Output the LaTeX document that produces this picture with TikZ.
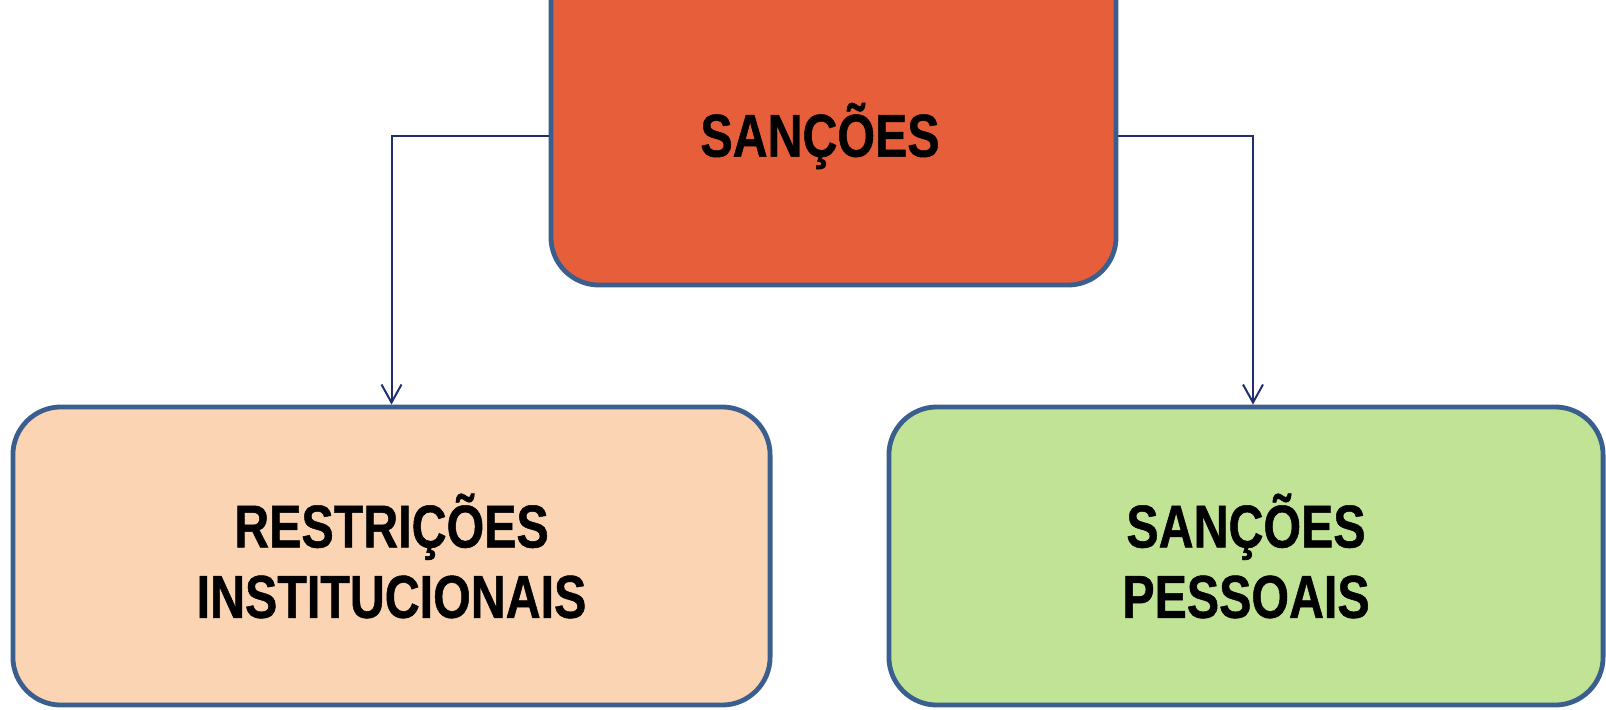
\documentclass[tikz,border=0pt]{standalone}
\usepackage{fontspec}
\setmainfont{Liberation Sans}[FakeStretch=0.80, FakeBold=0.8]
\usetikzlibrary{arrows.meta}
\definecolor{rahmen}{HTML}{3A5F8F}
\definecolor{linie}{HTML}{1F2F6E}
\definecolor{rot}{HTML}{E65E3A}
\definecolor{pfirsich}{HTML}{FBD4B4}
\definecolor{gruen}{HTML}{C0E396}
\tikzset{
  kasten/.style={draw=rahmen, line width=0.12cm, rounded corners=1.2cm, inner sep=0pt},
  verbinder/.style={draw=linie, line width=0.05cm, -{Straight Barb[length=0.45cm, width=0.5cm]}}
}
\begin{document}
\begin{tikzpicture}[x=0.025cm, y=-0.025cm, every node/.style={font=\bfseries\fontsize{43}{50}\selectfont, align=center}]
\clip (0,0) rectangle (1606,710);
\node[kasten, fill=rot, minimum width=14.125cm, minimum height=8.3cm] (sanc) at (833.5,119) {};
\node (sanctxt) at (820,136) {SANÇÕES};
\foreach \name/\mitte/\breite/\farbe/\seite/\versatz/\beschriftung in {
  inst/391.5/18.925cm/pfirsich/west/0cm/RESTRIÇÕES\\INSTITUCIONAIS,
  pess/1246/17.85cm/gruen/east/0.175cm/SANÇÕES\\PESSOAIS}
{
  \node[kasten, fill=\farbe, minimum width=\breite, minimum height=7.45cm] (\name) at (\mitte,556) {\beschriftung};
  \draw[verbinder] (sanctxt -| sanc.\seite) -| ([xshift=\versatz]\name.north);
}
\end{tikzpicture}
\end{document}
